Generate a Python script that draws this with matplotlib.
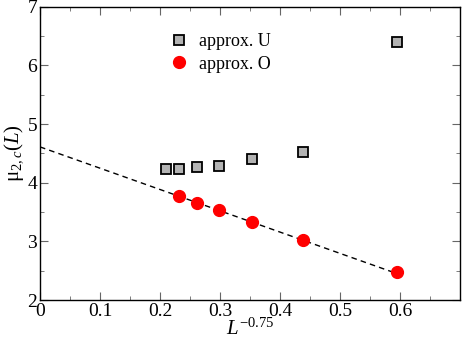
import numpy as np
import matplotlib
matplotlib.use('Agg')
import matplotlib.pyplot as plt
from matplotlib.ticker import MultipleLocator

plt.rcParams['font.family'] = ['Liberation Serif', 'DejaVu Serif']
plt.rcParams['mathtext.fontset'] = 'custom'
plt.rcParams['mathtext.rm'] = 'Liberation Serif'
plt.rcParams['mathtext.it'] = 'Liberation Serif:italic'

# data
L_u = [8, 7, 6, 5, 4, 3, 2]
mu_u = [4.24, 4.24, 4.26, 4.29, 4.41, 4.53, 6.40]
L_o = [7, 6, 5, 4, 3, 2]
mu_o = [3.77, 3.66, 3.53, 3.33, 3.02, 2.47]
fit_intercept = 4.61
fit_slope = -3.63
fit_xmax = 0.595

x_u = np.array(L_u, dtype=float) ** -0.75
x_o = np.array(L_o, dtype=float) ** -0.75

fig = plt.figure(figsize=(4.63, 3.45), dpi=100)
ax = fig.add_axes([0.0864, 0.1304, 0.9071, 0.8502])

xf = np.array([0.0, fit_xmax])
ax.plot(xf, fit_intercept + fit_slope * xf, color='black', ls=(0, (4, 3)), lw=1.0)

ax.plot(x_u, mu_u, ls='none', marker='s', ms=6.5, mfc='0.7', mec='black', mew=1.3,
        label='approx. U')
ax.plot(x_o, mu_o, ls='none', marker='o', ms=8.5, mfc='red', mec='red',
        label='approx. O')

ax.set_xlim(0, 0.7)
ax.set_ylim(2, 7)
ax.xaxis.set_minor_locator(MultipleLocator(0.05))
ax.yaxis.set_minor_locator(MultipleLocator(0.5))
ax.set_xticks([0, 0.1, 0.2, 0.3, 0.4, 0.5, 0.6])
ax.set_xticklabels(['0', '0.1', '0.2', '0.3', '0.4', '0.5', '0.6'])
ax.set_yticks([2, 3, 4, 5, 6, 7])
ax.set_yticklabels(['2', '3', '4', '5', '6', '7'])
ax.tick_params(which='both', direction='in', top=True, right=True, labelsize=14,
               color='0.4', pad=2)
ax.tick_params(which='major', length=6)
ax.tick_params(which='minor', length=3)
for s in ax.spines.values():
    s.set_linewidth(1.0)

ax.set_xlabel(r'$L^{-0.75}$', fontsize=15, labelpad=-1)
ax.set_ylabel(r'$\mathrm{\mu}_{2,c}(L)$', fontsize=15, labelpad=1)

ax.legend(loc='upper left', bbox_to_anchor=(0.27, 0.965), frameon=False, fontsize=13,
          handlelength=1.0, handletextpad=0.6, labelspacing=0.3, numpoints=1)

fig.savefig('out.png', dpi=100)
